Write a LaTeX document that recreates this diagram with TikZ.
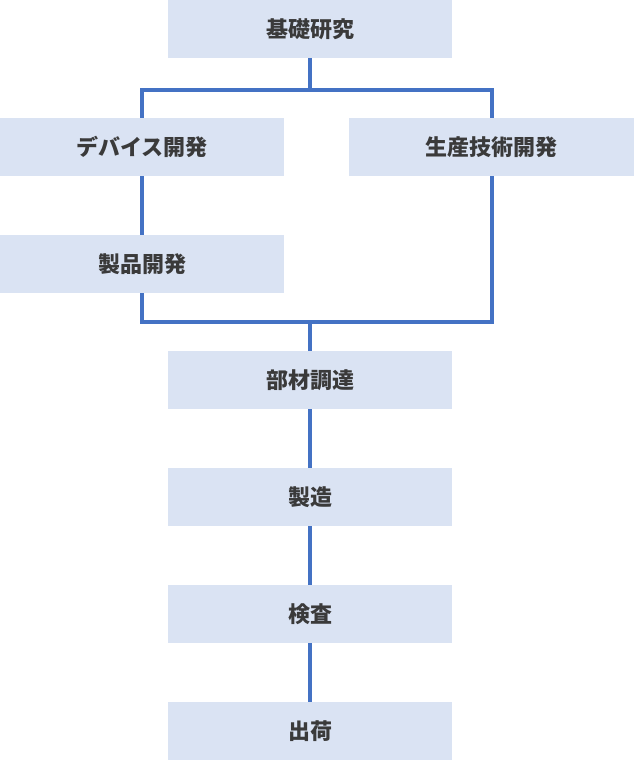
\documentclass[tikz,border=0pt]{standalone}
\usepackage{fontspec}
\newfontfamily\cjk{Noto Sans CJK JP}
\usetikzlibrary{backgrounds}
\definecolor{boxfill}{HTML}{DAE3F3}
\definecolor{flowline}{HTML}{4472C4}
\definecolor{boxtext}{HTML}{3A3A3A}

\begin{document}
\begin{tikzpicture}[x=1pt,y=-1pt,
    stage/.style={fill=boxfill,minimum width=284pt,minimum height=58pt,inner sep=0pt,
        text=boxtext,font=\cjk\bfseries\fontsize{22}{25}\selectfont},
    flow/.style={draw=flowline,line width=4pt}]
        \useasboundingbox (0,0) rectangle (634,760);

        \node[stage] (kiso) at (310,29) {基礎研究};
        \node[stage] (device) at (142,147) {デバイス開発};
        \node[stage,minimum width=285pt] (seisan) at (491.5,147) {生産技術開発};
        \node[stage] (seihin) at (142,264) {製品開発};
        \node[stage] (buzai) at (310,380) {部材調達};
        \node[stage] (seizo) at (310,497) {製造};
        \node[stage] (kensa) at (310,614) {検査};
        \node[stage] (shukka) at (310,731) {出荷};

        \coordinate (topbar) at (310,90);
        \coordinate (botbar) at (310,322);

        \begin{scope}[on background layer]
        \draw[flow] (device |- topbar) -- (device |- botbar) -- (seisan |- botbar) -- (seisan |- topbar) -- cycle;
        \draw[flow] (kiso) -- (topbar);
        \draw[flow] (botbar) -- (buzai) -- (seizo) -- (kensa) -- (shukka);
        \end{scope}
    \end{tikzpicture}
\end{document}
